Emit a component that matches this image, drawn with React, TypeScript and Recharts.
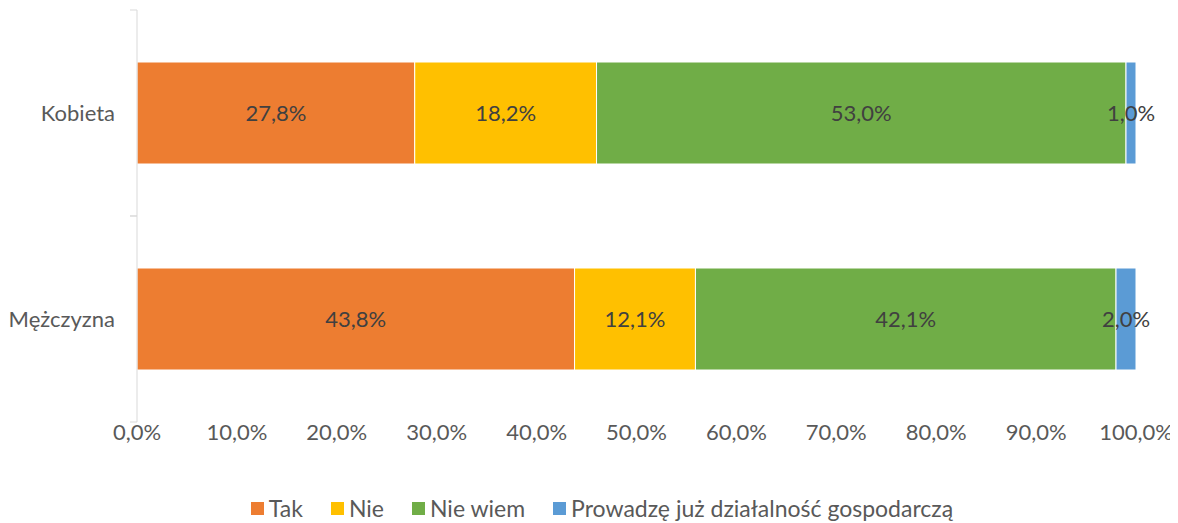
import React from "react";
import { Bar, BarChart, LabelList, Legend, XAxis, YAxis } from "recharts";

const categories = ["Kobieta", "Mężczyzna"];
const tak = [27.8, 43.8];
const nie = [18.2, 12.1];
const nieWiem = [53.0, 42.1];
const prowadze = [1.0, 2.0];
const xTicks = [0, 10, 20, 30, 40, 50, 60, 70, 80, 90, 100];

const series = [
  { key: "tak", name: "Tak", color: "#ED7D31" },
  { key: "nie", name: "Nie", color: "#FFC000" },
  { key: "nieWiem", name: "Nie wiem", color: "#70AD47" },
  { key: "prowadze", name: "Prowadzę już działalność gospodarczą", color: "#5B9BD5" },
];

const data = categories.map((name, i) => ({
  name,
  tak: tak[i],
  nie: nie[i],
  nieWiem: nieWiem[i],
  prowadze: prowadze[i],
}));

const FONT = "Lato, 'Liberation Sans', sans-serif";
const pct = (v: any) => `${Number(v).toFixed(1).replace(".", ",")}%`;

// category label plus small ticks on the band edges (like Excel)
function CategoryTick(props: any) {
  const { x, y, payload } = props;
  const half = payload.offset || 0;
  return (
    <g>
      <line x1={x - 7} x2={x} y1={y - half} y2={y - half} stroke="#D9D9D9" />
      <line x1={x - 7} x2={x} y1={y + half} y2={y + half} stroke="#D9D9D9" />
      <text x={x - 22} y={y} dy="0.35em" textAnchor="end" fill="#595959" fontSize={22} fontFamily={FONT}>
        {payload.value}
      </text>
    </g>
  );
}

function LegendContent() {
  return (
    <div
      style={{
        display: "flex",
        justifyContent: "center",
        gap: 28,
        paddingLeft: 18,
        fontFamily: FONT,
        fontSize: 23,
        color: "#595959",
      }}
    >
      {series.map((s) => (
        <div key={s.key} style={{ display: "flex", alignItems: "center" }}>
          <span style={{ width: 13, height: 13, background: s.color, marginRight: 5, display: "inline-block" }} />
          <span>{s.name}</span>
        </div>
      ))}
    </div>
  );
}

export default function App() {
  return (
    <div style={{ width: 1170, height: 515 }}>
      <BarChart
        width={1170}
        height={515}
        data={data}
        layout="vertical"
        margin={{ top: 2, right: 42, bottom: 51, left: 0 }}
      >
        <XAxis
          type="number"
          domain={[0, 100]}
          ticks={xTicks}
          tickFormatter={pct}
          axisLine={false}
          tickLine={false}
          tickSize={0}
          tickMargin={2}
          height={50}
          interval={0}
          tick={{ fill: "#595959", fontSize: 22, fontFamily: FONT }}
        />
        <YAxis
          type="category"
          dataKey="name"
          width={129}
          axisLine={{ stroke: "#D9D9D9" }}
          tickLine={false}
          tickSize={0}
          tickMargin={0}
          tick={<CategoryTick />}
        />
        <Legend
          layout="horizontal"
          verticalAlign="middle"
          align="center"
          wrapperStyle={{ top: 486, left: 0, width: 1170 }}
          content={<LegendContent />}
        />
        {series.map((s) => (
          <Bar
            key={s.key}
            dataKey={s.key}
            name={s.name}
            stackId="a"
            fill={s.color}
            stroke="#FFFFFF"
            strokeWidth={1}
            barSize={102}
            isAnimationActive={false}
          >
            <LabelList
              dataKey={s.key}
              position="center"
              formatter={pct}
              fill="#404040"
              fontSize={22}
              fontFamily={FONT}
            />
          </Bar>
        ))}
      </BarChart>
    </div>
  );
}
